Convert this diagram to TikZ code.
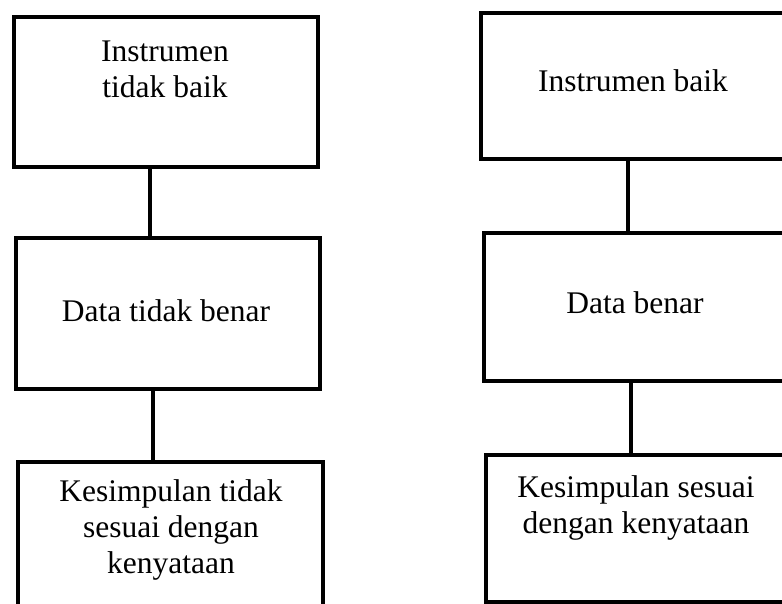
\documentclass[tikz,border=0pt]{standalone}
\usepackage{fontspec}
\setmainfont{Liberation Serif}
\begin{document}
\begin{tikzpicture}[x=1pt,y=-1pt,
  box/.style={draw, line width=3.5pt, outer sep=0pt, inner sep=0pt, anchor=north west},
  link/.style={line width=3.5pt},
  txt/.style={font=\fontsize{31.5}{36}\selectfont, align=center, anchor=base, inner sep=0pt}]
\useasboundingbox (0,0) rectangle (782,604);
\fill[white] (0,0) rectangle (782,604);
\clip (0,0) rectangle (782,604);

% left column
\node[box, minimum width=304pt, minimum height=150pt] (l1) at (14,17) {};
\node[box, minimum width=304pt, minimum height=151pt] (l2) at (16,238) {};
\node[box, minimum width=305pt, minimum height=178pt] (l3) at (18,462) {};
% right column
\node[box, minimum width=304pt, minimum height=146pt] (r1) at (481,13) {};
\node[box, minimum width=304pt, minimum height=148pt] (r2) at (484,233) {};
\node[box, minimum width=304pt, minimum height=147pt] (r3) at (486,455) {};

% connector columns
\coordinate (cl1) at (150,0);
\coordinate (cl2) at (153,0);
\coordinate (cr1) at (628,0);
\coordinate (cr2) at (631,0);

\draw[link] (l1.south -| cl1) -- (l2.north -| cl1);
\draw[link] (l2.south -| cl2) -- (l3.north -| cl2);
\draw[link] (r1.south -| cr1) -- (r2.north -| cr1);
\draw[link] (r2.south -| cr2) -- (r3.north -| cr2);

% labels (base anchor sits on the last line)
\node[txt] (tl1) at (165,98) {Instrumen\\tidak baik};
\node[txt] (tr1) at (633,92) {Instrumen baik};
\node[txt] (tl2) at (166,321) {Data tidak benar};
\node[txt] (tr2) at (635,313) {Data benar};
\node[txt] (tl3) at (171,573) {Kesimpulan tidak\\sesuai dengan\\kenyataan};
\node[txt] (tr3) at (636,533) {Kesimpulan sesuai\\dengan kenyataan};
\end{tikzpicture}
\end{document}
